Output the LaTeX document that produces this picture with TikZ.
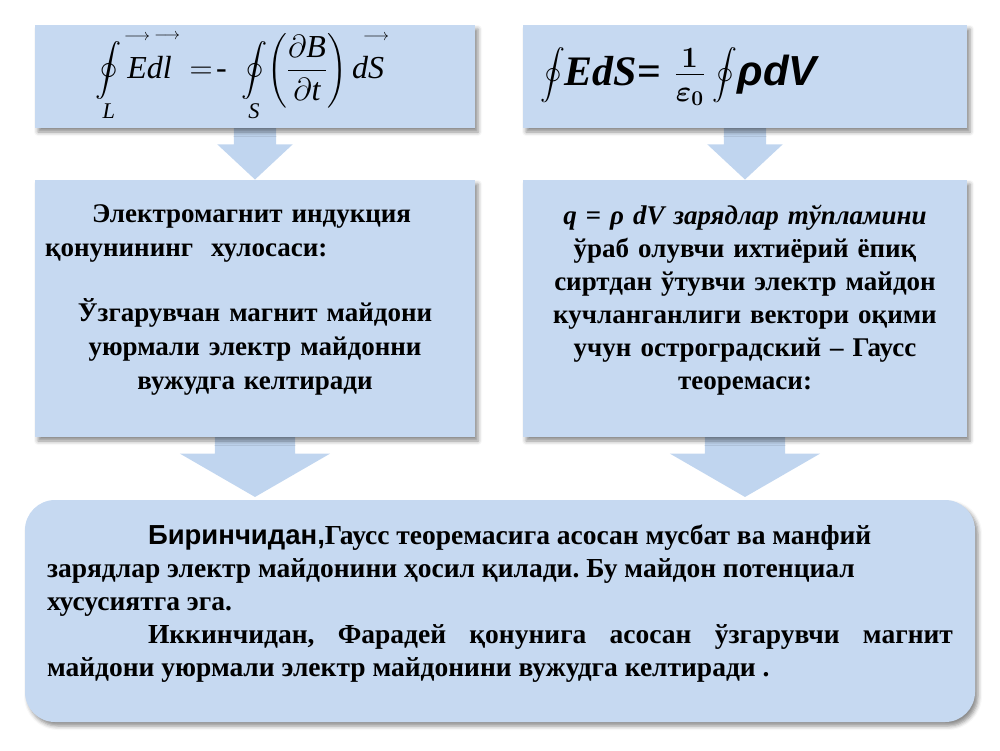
\RequirePackage{fix-cm}
\documentclass[tikz,border=0pt]{standalone}
\usepackage{amsmath}
\usepackage{graphicx}
\usepackage{fontspec}
\setmainfont{Liberation Serif}
\newfontfamily\sansbold{Liberation Sans}
\usetikzlibrary{shapes.arrows,shadows.blur,calc}
\definecolor{boxblue}{RGB}{198,217,241}
\definecolor{arrowblue}{RGB}{192,213,239}
\setlength{\parindent}{0pt}
\frenchspacing
\pgfdeclarelayer{background}
\pgfsetlayers{background,main}
\newcommand{\hivec}[1]{\overset{\makebox[0pt]{\raisebox{12pt}{$\scriptscriptstyle\longrightarrow$}}}{#1}}
\newcommand{\ti}[1]{\text{\itshape #1}}
\newcommand{\loopint}[1][1]{\mathop{\vcenter{\hbox{\scalebox{#1}{$\displaystyle\oint$}}}}}
\begin{document}
\begin{tikzpicture}[x=1pt,y=-1pt,
  box/.style={fill=boxblue, inner sep=0pt,
    blur shadow={shadow xshift=3pt, shadow yshift=-4pt, shadow blur radius=4pt, shadow opacity=45}},
  downarrow/.style={single arrow, shape border rotate=270, fill=arrowblue, inner ysep=0pt,
    single arrow head indent=0pt, anchor=tip},
  body/.style={font=\bfseries\fontsize{27}{34}\selectfont, inner sep=0pt, anchor=north}]
\useasboundingbox (0,0) rectangle (1000,750);
\node[box, minimum width=440pt, minimum height=103pt, font=\fontsize{32}{38}\selectfont] (eqL) at (255,76.5)
  {$\displaystyle \loopint[1.05]\limits_{\ti{L}}\hivec{\ti{E}}\ti{d}\hivec{\ti{l}}\;=\!\text{-}\;\loopint[1.05]\limits_{\ti{S}}\!\left(\frac{\partial \ti{B}}{\partial \ti{t}}\right)\ti{d}\hivec{\ti{S}}$\hspace*{30pt}};
\node[box, minimum width=444pt, minimum height=103pt, text width=424pt, font=\bfseries\fontsize{42}{46}\selectfont] (eqR) at (745,76.5)
  {\hspace*{7pt}{\boldmath$\loopint[1.0]\!\textit{EdS}\text{=}\;\tfrac{1}{\varepsilon_0}\loopint[1.0]\!\text{\sansbold\itshape ρdV}$}};
\node[box, minimum width=440pt, minimum height=257pt] (ind) at (255,308.5) {};
\node[box, minimum width=444pt, minimum height=257pt] (gauss) at (745,308.5) {};
\node[box, rounded corners=30pt, minimum width=950pt, minimum height=222pt] (sum) at (500,611) {};
\node[body, text width=420pt] (indtext) at ($(ind.north)+(0,25)$)
  {\hspace*{47pt}Электромагнит индукция\\
   қонунининг\ \ хулосаси:\par\vspace{31pt}
   {\centering Ўзгарувчан магнит майдони\\ уюрмали электр майдонни\\ вужудга келтиради\par}};
\node[body, text width=424pt, align=center, font=\bfseries\fontsize{27}{33}\selectfont] (gausstext) at ($(gauss.north)+(0,25)$)
  {{\itshape q = ρ dV зарядлар тўпламини}\\
   ўраб олувчи ихтиёрий ёпиқ\\ сиртдан ўтувчи электр майдон\\
   кучланганлиги вектори оқими\\ учун остроградский – Гаусс\\ теоремаси:};
\node[body, text width=906pt, align=justify, font=\bfseries\fontsize{27.5}{33}\selectfont] (sumtext) at ($(sum.north)+(0,25)$)
  {\hspace*{101pt}{\sansbold Биринчидан,}Гаусс теоремасига асосан мусбат ва манфий\newline
   зарядлар электр майдонини ҳосил қилади. Бу майдон потенциал\newline
   хусусиятга эга.\par
   \hspace*{101pt}Иккинчидан, Фарадей қонунига асосан ўзгарувчи магнит\linebreak
   майдони уюрмали электр майдонини вужудга келтиради .\par};
\begin{pgfonlayer}{background}
\node[downarrow, inner xsep=21pt, minimum height=60pt, single arrow head extend=16.5pt, single arrow tip angle=94] (a1) at (ind.north) {};
\node[downarrow, inner xsep=21pt, minimum height=60pt, single arrow head extend=16.5pt, single arrow tip angle=94] (a2) at (gauss.north) {};
\node[downarrow, inner xsep=40pt, minimum height=67pt, single arrow head extend=35pt, single arrow tip angle=120] (a3) at ($(ind.south)+(0,60)$) {};
\node[downarrow, inner xsep=40pt, minimum height=67pt, single arrow head extend=35pt, single arrow tip angle=120] (a4) at ($(gauss.south)+(0,60)$) {};
\end{pgfonlayer}
\end{tikzpicture}
\end{document}
